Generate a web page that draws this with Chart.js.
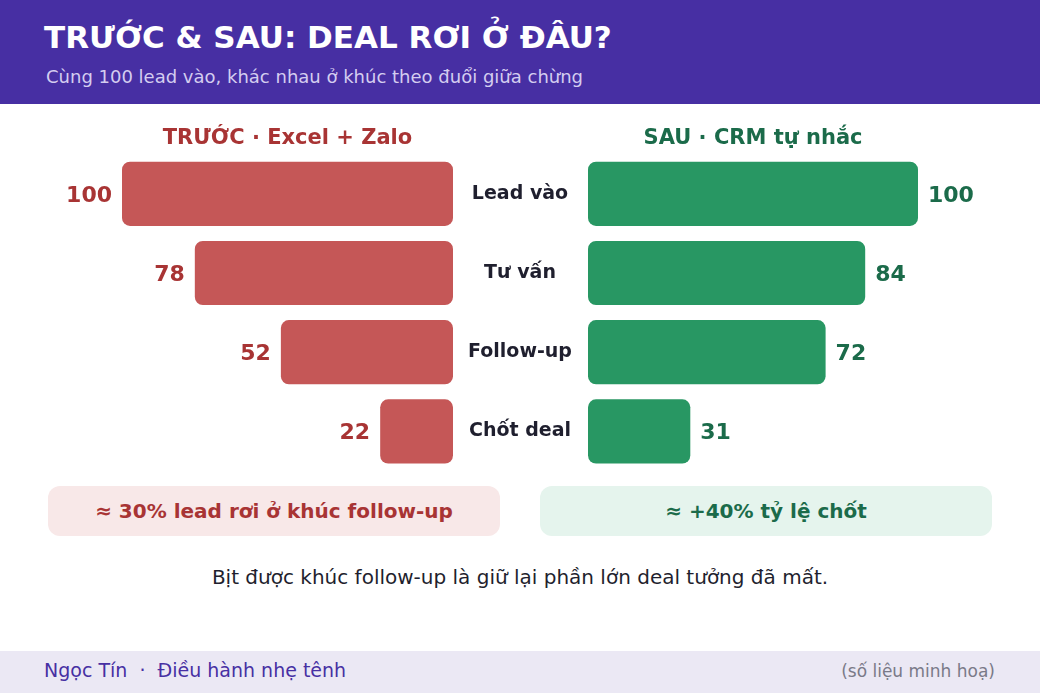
<!DOCTYPE html>
<html lang="vi">
<head>
<meta charset="utf-8">
<title>Trước & Sau: Deal rơi ở đâu?</title>
<script src="https://cdn.jsdelivr.net/npm/chart.js"></script>
<style>
  html, body { margin: 0; padding: 0; }
  body {
    width: 1040px; height: 693px; position: relative; overflow: hidden;
    background: #ffffff; font-family: "DejaVu Sans", sans-serif;
  }
  .header {
    position: absolute; left: 0; top: 0; width: 1040px; height: 104px;
    background: #472fa3;
  }
  .header h1 {
    position: absolute; left: 44px; top: 19px; margin: 0;
    font-size: 31px; font-weight: bold; color: #ffffff; white-space: nowrap;
  }
  .header p {
    position: absolute; left: 46px; top: 66px; margin: 0;
    font-size: 18px; color: #d4cdf0; white-space: nowrap;
  }
  .panel { position: absolute; }
  .callout {
    position: absolute; top: 486px; height: 50px; width: 452px;
    border-radius: 12px; display: flex; align-items: center; justify-content: center;
    font-size: 20px; font-weight: bold;
  }
  .callout.before { left: 48px; background: #f8e8e8; color: #a83434; }
  .callout.after { left: 540px; background: #e5f4ed; color: #1b6b4a; }
  .note {
    position: absolute; left: 0; top: 565px; width: 1040px; text-align: center;
    font-size: 20px; color: #1f1f2e;
  }
  .footer {
    position: absolute; left: 0; top: 651px; width: 1040px; height: 42px;
    background: #ebe8f4;
  }
  .footer .who {
    position: absolute; left: 44px; top: 8px; font-size: 19px; color: #4730a3; white-space: pre;
  }
  .footer .src {
    position: absolute; right: 45px; top: 10px; font-size: 17px; color: #7a7a88;
  }
</style>
</head>
<body>
<div class="header">
  <h1>TRƯỚC &amp; SAU: DEAL RƠI Ở ĐÂU?</h1>
  <p>Cùng 100 lead vào, khác nhau ở khúc theo đuổi giữa chừng</p>
</div>

<div class="panel" style="left:40px; top:120px; width:430px; height:351px;">
  <canvas id="beforeChart"></canvas>
</div>
<div class="panel" style="left:460px; top:120px; width:540px; height:351px;">
  <canvas id="afterChart"></canvas>
</div>

<div class="callout before">≈ 30% lead rơi ở khúc follow-up</div>
<div class="callout after">≈ +40% tỷ lệ chốt</div>

<div class="note">Bịt được khúc follow-up là giữ lại phần lớn deal tưởng đã mất.</div>

<div class="footer">
  <span class="who">Ngọc Tín  ·  Điều hành nhẹ tênh</span>
  <span class="src">(số liệu minh hoạ)</span>
</div>

<script>
// Funnel stages, top to bottom
const stages = ['Lead vào', 'Tư vấn', 'Follow-up', 'Chốt deal'];
// Deals left at each stage, out of 100 leads
const beforeValues = [100, 78, 52, 22];
const afterValues = [100, 84, 72, 31];

const FONT = '"DejaVu Sans", sans-serif';

// Draws the number next to each bar, and (on the right panel) the stage names in the middle
const funnelLabels = {
    id: 'funnelLabels',
    afterDatasetsDraw(chart, args, opts) {
        const ctx = chart.ctx;
        const meta = chart.getDatasetMeta(0);
        const values = chart.data.datasets[0].data;
        ctx.save();
        ctx.textBaseline = 'middle';
        ctx.font = 'bold 22px ' + FONT;
        ctx.fillStyle = opts.color;
        meta.data.forEach((bar, i) => {
            if (opts.side === 'left') {
                ctx.textAlign = 'right';
                ctx.fillText(values[i], bar.x - 10, bar.y + 2);
            } else {
                ctx.textAlign = 'left';
                ctx.fillText(values[i], bar.x + 10, bar.y + 2);
            }
        });
        if (opts.stageNames) {
            ctx.font = 'bold 19px ' + FONT;
            ctx.fillStyle = '#1f1f2e';
            ctx.textAlign = 'center';
            const cx = chart.chartArea.left - 68;
            meta.data.forEach((bar, i) => {
                ctx.fillText(chart.data.labels[i], cx, bar.y);
            });
        }
        ctx.restore();
    }
};

function funnelChart(canvasId, values, opts) {
    const ctx = document.getElementById(canvasId);
    return new Chart(ctx, {
        type: 'bar',
        data: {
            labels: stages,
            datasets: [{
                data: values,
                backgroundColor: opts.barColor,
                borderRadius: 8,
                borderSkipped: false,
                barPercentage: 1,
                categoryPercentage: 0.81
            }]
        },
        options: {
            indexAxis: 'y',
            responsive: true,
            maintainAspectRatio: false,
            animation: false,
            layout: { padding: opts.padding },
            scales: {
                x: { min: 0, max: 100, reverse: opts.side === 'left', display: false },
                y: { display: false }
            },
            plugins: {
                legend: { display: false },
                tooltip: { enabled: false },
                title: {
                    display: true,
                    text: opts.title,
                    color: opts.titleColor,
                    font: { family: FONT, size: 21, weight: 'bold', lineHeight: 1.2 },
                    padding: { top: 6, bottom: 3 }
                },
                funnelLabels: {
                    side: opts.side,
                    color: opts.titleColor,
                    stageNames: opts.stageNames
                }
            }
        },
        plugins: [funnelLabels]
    });
}

funnelChart('beforeChart', beforeValues, {
    side: 'left',
    title: 'TRƯỚC · Excel + Zalo',
    titleColor: '#a83434',
    barColor: '#c55757',
    padding: { left: 82, right: 17, top: 0, bottom: 0 },
    stageNames: false
});

funnelChart('afterChart', afterValues, {
    side: 'right',
    title: 'SAU · CRM tự nhắc',
    titleColor: '#1b6b4a',
    barColor: '#289763',
    padding: { left: 128, right: 82, top: 0, bottom: 0 },
    stageNames: true
});
</script>
</body>
</html>
